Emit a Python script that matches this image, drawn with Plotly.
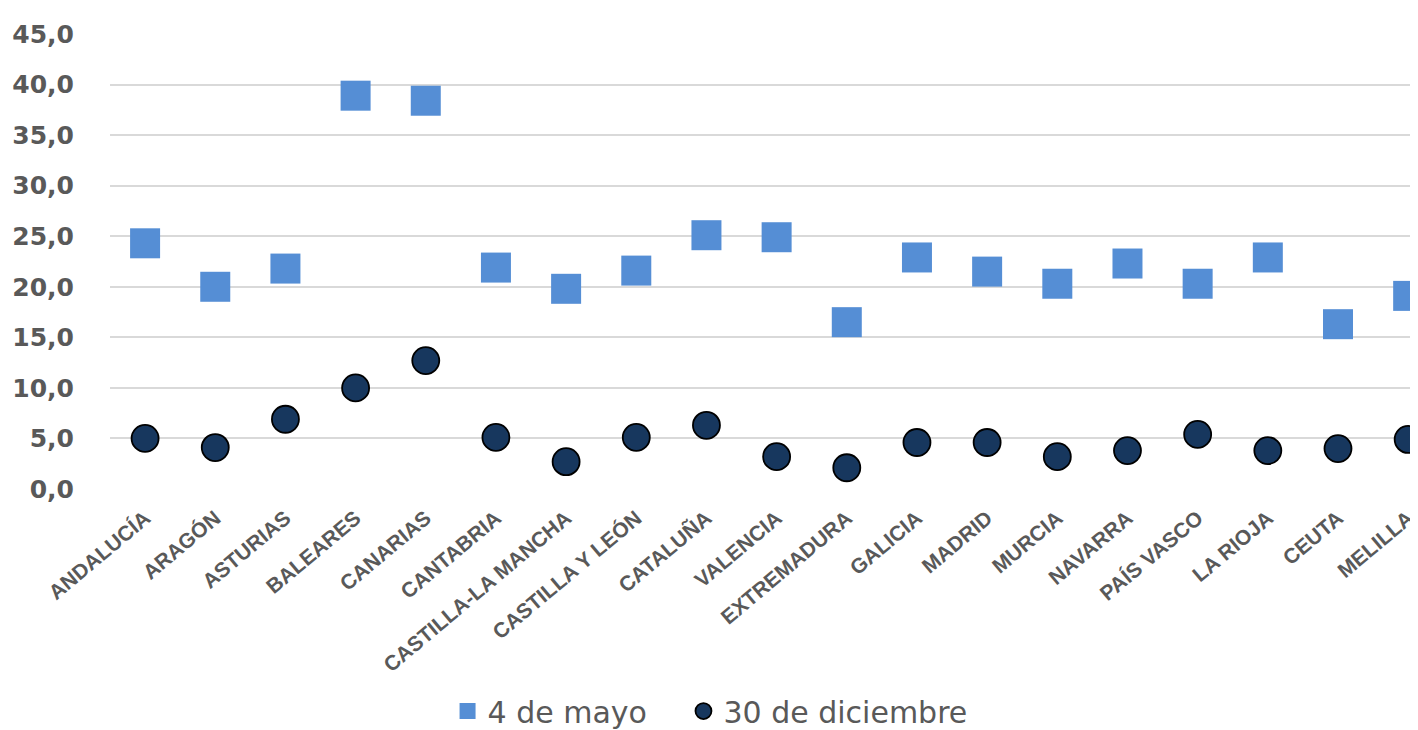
import plotly.graph_objects as go

regiones = ["ANDALUCÍA", "ARAGÓN", "ASTURIAS", "BALEARES", "CANARIAS", "CANTABRIA",
            "CASTILLA-LA MANCHA", "CASTILLA Y LEÓN", "CATALUÑA", "VALENCIA", "EXTREMADURA",
            "GALICIA", "MADRID", "MURCIA", "NAVARRA", "PAÍS VASCO", "LA RIOJA", "CEUTA", "MELILLA"]
mayo_4 = [24.3, 20.0, 21.8, 38.9, 38.4, 21.9, 19.8, 21.6, 25.1, 24.9, 16.5,
          22.9, 21.5, 20.3, 22.3, 20.3, 22.9, 16.3, 19.1]
diciembre_30 = [5.0, 4.1, 6.9, 10.0, 12.7, 5.1, 2.7, 5.1, 6.3, 3.2, 2.1,
                4.6, 4.6, 3.2, 3.8, 5.4, 3.8, 4.0, 4.9]
y_ticks = [0, 5, 10, 15, 20, 25, 30, 35, 40, 45]

GREY = "#595959"

fig = go.Figure()
fig.add_trace(go.Scatter(
    x=regiones, y=mayo_4, mode="markers", name="4 de mayo", legend="legend",
    marker=dict(symbol="square", size=30, color="#558ED5", line=dict(width=0)),
))
fig.add_trace(go.Scatter(
    x=regiones, y=diciembre_30, mode="markers", name="30 de diciembre", legend="legend2",
    marker=dict(symbol="circle", size=27, color="#17375E", line=dict(color="#000000", width=1.8)),
))

legend_common = dict(orientation="h", xanchor="left", y=-0.488, yanchor="middle",
                     font=dict(family="DejaVu Sans", size=30, color=GREY),
                     itemwidth=30, bgcolor="rgba(0,0,0,0)")

fig.update_layout(
    width=1418, height=730,
    margin=dict(l=102, r=1, t=26, b=242),
    paper_bgcolor="white", plot_bgcolor="white",
    separators=",.",
    showlegend=True,
    legend=dict(x=0.2567, **legend_common),
    legend2=dict(x=0.4361, **legend_common),
    xaxis=dict(
        type="category", range=[-0.5, 18.24],
        showgrid=False, zeroline=False, showline=False,
        tickangle=-40,
        tickfont=dict(family="Liberation Sans", size=21, color=GREY, weight="bold"),
        ticklabelstandoff=12,
    ),
    yaxis=dict(
        range=[0, 45], tickvals=y_ticks, tickformat=".1f",
        showgrid=True, gridcolor="#D9D9D9", gridwidth=1.5,
        zeroline=False, showline=False,
        tickfont=dict(family="DejaVu Sans", size=25, color=GREY, weight="bold"),
        ticklabelstandoff=35,
    ),
)

fig.write_html("out.html")
